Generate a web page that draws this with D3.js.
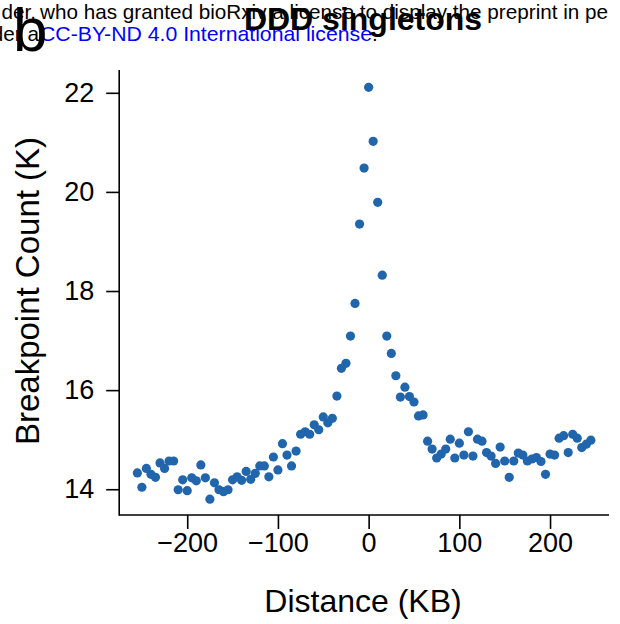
<!DOCTYPE html>
<html>
<head>
<meta charset="utf-8">
<script src="https://cdn.jsdelivr.net/npm/d3@7/dist/d3.min.js"></script>
<style>
  html, body { margin: 0; padding: 0; background: #fff; }
  svg { display: block; font-family: "Liberation Sans", Arial, Helvetica, sans-serif; }
</style>
</head>
<body>
<svg id="chart" width="620" height="624"></svg>
<script>
// ---- data ----
const distanceKB = [
  -255, -250, -245, -240, -235, -230, -225, -220, -215, -210,
  -205, -200, -195, -190, -185, -180, -175, -170, -165, -160,
  -155, -150, -145, -140, -135, -130, -125, -120, -115, -110,
  -105, -100, -95, -90, -85, -80, -75, -70, -65, -60,
  -55, -50, -45, -40, -35, -30, -25, -20, -15, -10,
  -5, 0, 5, 10, 15, 20, 25, 30, 35, 40,
  45, 50, 55, 60, 65, 70, 75, 80, 85, 90,
  95, 100, 105, 110, 115, 120, 125, 130, 135, 140,
  145, 150, 155, 160, 165, 170, 175, 180, 185, 190,
  195, 200, 205, 210, 215, 220, 225, 230, 235, 240,
  245
];
const breakpointCountK = [
  14.33, 14.04, 14.42, 14.30, 14.24, 14.53, 14.42, 14.57, 14.57, 13.99,
  14.19, 13.97, 14.23, 14.17, 14.49, 14.23, 13.80, 14.13, 13.99, 13.95,
  13.99, 14.19, 14.25, 14.18, 14.36, 14.20, 14.32, 14.47, 14.47, 14.25,
  14.65, 14.39, 14.92, 14.69, 14.47, 14.77, 15.11, 15.16, 15.11, 15.30,
  15.20, 15.46, 15.34, 15.43, 15.88, 16.44, 16.54, 17.09, 17.75, 19.35,
  20.48, 22.11, 21.02, 19.79, 18.32, 17.09, 16.74, 16.29, 15.86, 16.06,
  15.87, 15.76, 15.48, 15.50, 14.97, 14.81, 14.63, 14.71, 14.81, 15.01,
  14.63, 14.93, 14.69, 15.16, 14.67, 15.01, 14.97, 14.74, 14.67, 14.52,
  14.85, 14.57, 14.24, 14.57, 14.73, 14.69, 14.57, 14.61, 14.64, 14.56,
  14.30, 14.71, 14.69, 15.03, 15.08, 14.74, 15.11, 15.03, 14.84, 14.91,
  14.99
];
const xTicks = [-200, -100, 0, 100, 200];
const yTicks = [14, 16, 18, 20, 22];
const title = "DDD singletons";
const xLabel = "Distance (KB)";
const yLabel = "Breakpoint Count (K)";

const points = distanceKB.map((d, i) => ({ x: d, y: breakpointCountK[i] }));

// ---- layout ----
const svg = d3.select("#chart");
const x = d3.scaleLinear().domain([-275, 265]).range([119.2, 609]);
const y = d3.scaleLinear().domain([13.48, 22.46]).range([515, 70]);

// header remnants (page stamp)
const hdr = svg.append("g").attr("font-size", 20.7).attr("fill", "#000");
hdr.append("text").attr("x", 36).attr("y", 19).attr("text-anchor", "end").text("der,");
hdr.append("text").attr("x", 40).attr("y", 19)
  .text("who has granted bioRxiv a license to display the preprint in pe");
hdr.append("text").attr("x", 39).attr("y", 41).attr("text-anchor", "end").text("der a");
hdr.append("text").attr("x", 40).attr("y", 41).attr("fill", "#0000ff")
  .attr("textLength", 332).attr("lengthAdjust", "spacingAndGlyphs")
  .text("CC-BY-ND 4.0 International license");
hdr.append("text").attr("x", 372).attr("y", 41).text(".");

// panel letter
svg.append("text").attr("x", 13).attr("y", 51).attr("font-size", 62).attr("fill", "#000").text("b");

// title
svg.append("text").attr("x", 363).attr("y", 30).attr("text-anchor", "middle")
  .attr("font-size", 32).attr("font-weight", "bold").attr("fill", "#000").text(title);

// axes
const xAxis = svg.append("g").attr("transform", "translate(0,515)")
  .call(d3.axisBottom(x).tickValues(xTicks).tickSize(14).tickPadding(4)
    .tickFormat(d => d < 0 ? "\u2212" + Math.abs(d) : String(d)));
const yAxis = svg.append("g").attr("transform", "translate(119.2,0)")
  .call(d3.axisLeft(y).tickValues(yTicks).tickSize(13).tickPadding(12));

[xAxis, yAxis].forEach(g => {
  g.select(".domain").remove();
  g.selectAll(".tick line").attr("stroke", "#000").attr("stroke-width", 1.6);
  g.selectAll(".tick text").attr("font-size", 27).attr("fill", "#000")
    .attr("font-family", "'Liberation Sans', Arial, Helvetica, sans-serif");
});
xAxis.selectAll(".tick text").attr("dy", "0.71em");

svg.append("line").attr("x1", x.range()[0]).attr("x2", x.range()[1])
  .attr("y1", 515).attr("y2", 515).attr("stroke", "#000").attr("stroke-width", 1.6);
svg.append("line").attr("x1", 119.2).attr("x2", 119.2)
  .attr("y1", y.range()[1]).attr("y2", y.range()[0] + 0.8).attr("stroke", "#000").attr("stroke-width", 1.6);

// axis titles
svg.append("text").attr("x", 363).attr("y", 612).attr("text-anchor", "middle")
  .attr("font-size", 32).attr("fill", "#000").text(xLabel);
svg.append("text").attr("transform", "translate(39,291) rotate(-90)").attr("text-anchor", "middle")
  .attr("font-size", 33).attr("fill", "#000").text(yLabel);

// points
svg.append("g").selectAll("circle").data(points).join("circle")
  .attr("cx", d => x(d.x)).attr("cy", d => y(d.y)).attr("r", 4.6)
  .attr("fill", "#2166ac");
</script>
</body>
</html>
